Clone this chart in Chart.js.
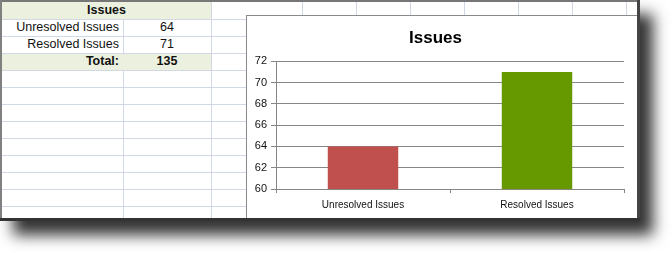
<!DOCTYPE html>
<html>
<head>
<meta charset="utf-8">
<script src="https://cdn.jsdelivr.net/npm/chart.js@4"></script>
<style>
  body { margin: 0; background: #fff; width: 672px; height: 253px; overflow: hidden; font-family: "Liberation Sans", Arial, sans-serif; }
  #frame { position: absolute; left: 0; top: 0; width: 640px; height: 221px; background: #fff;
           box-shadow: 13px 14px 14px rgba(0,0,0,0.8); }
  .line { position: absolute; background: #d0d7e5; }
  .fill { position: absolute; background: #ebf1de; }
  .cell { position: absolute; font-size: 12.5px; line-height: 17px; color: #111; white-space: nowrap; }
  .bold { font-weight: bold; }
  .edge { position: absolute; }
  #chartBox { position: absolute; left: 246px; top: 15px; width: 391px; height: 203px; background: #fff;
              border-left: 1px solid #8a8a8a; border-top: 1px solid #8a8a8a; box-sizing: border-box; }
  #chartBox canvas { position: absolute; left: 0; top: 0; }
</style>
</head>
<body>
<div id="frame"></div>
<div id="chartBox"><canvas id="issuesChart" width="390" height="202"></canvas></div>
<script>
const categories = ['Unresolved Issues', 'Resolved Issues'];
const issueCounts = [64, 71];
const barColors = ['#C0504D', '#669900'];
const yTicks = [60, 62, 64, 66, 68, 70, 72];
const tableTitle = 'Issues';
const totalLabel = 'Total:';

// spreadsheet behind the chart
const frame = document.getElementById('frame');
function box(cls, x, y, w, h, text) {
  const d = document.createElement('div');
  d.className = cls;
  d.style.left = x + 'px'; d.style.top = y + 'px';
  d.style.width = w + 'px'; d.style.height = h + 'px';
  if (text !== undefined) d.textContent = text;
  frame.appendChild(d);
  return d;
}
const rowTops = [2, 19, 36, 53, 70, 87, 104, 121, 138, 155, 172, 189, 206];
const colLines = [123, 211, 302, 356, 410, 464, 518, 572, 626];

box('fill', 2, 2, 209, 17);
box('fill', 2, 53, 209, 17);
rowTops.slice(1).forEach(y => box('line', 2, y, 635, 1));
colLines.forEach(x => {
  if (x === 123) {
    box('line', x, 19, 1, 34);
    box('line', x, 70, 1, 148);
  } else {
    box('line', x, 2, 1, 216);
  }
});

let c = box('cell bold', 2, 2, 209, 17, tableTitle); c.style.textAlign = 'center';
categories.forEach((name, i) => {
  let a = box('cell', 2, 19 + i * 17, 117, 17, name); a.style.textAlign = 'right';
  let b = box('cell', 123, 19 + i * 17, 88, 17, issueCounts[i]); b.style.textAlign = 'center';
});
let t = box('cell bold', 2, 53, 117, 17, totalLabel); t.style.textAlign = 'right';
let tv = box('cell bold', 123, 53, 88, 17, issueCounts.reduce((s, v) => s + v, 0)); tv.style.textAlign = 'center';

// window frame edges
box('edge', 0, 0, 640, 2).style.background = '#777';
box('edge', 0, 0, 2, 221).style.background = '#808080';
box('edge', 637, 0, 3, 221).style.background = '#444';
box('edge', 0, 218, 640, 3).style.background = '#333';

const fontFam = '"Liberation Sans", Arial, sans-serif';
new Chart(document.getElementById('issuesChart'), {
  type: 'bar',
  data: {
    labels: categories,
    datasets: [{
      data: issueCounts,
      backgroundColor: barColors,
      barPercentage: 0.405,
      categoryPercentage: 1
    }]
  },
  options: {
    responsive: false,
    animation: false,
    layout: { padding: { left: 0, right: 13, top: 0, bottom: 0 } },
    plugins: {
      legend: { display: false },
      tooltip: { enabled: false },
      title: {
        display: true,
        text: tableTitle,
        color: '#000',
        font: { family: fontFam, size: 17, weight: 'bold' },
        padding: { top: 12, bottom: 13 }
      }
    },
    scales: {
      x: {
        grid: { offset: true, drawOnChartArea: false, tickLength: 4, color: '#868686' },
        border: { color: '#868686' },
        ticks: { color: '#111', font: { family: fontFam, size: 10 }, padding: 6 },
        afterFit(s) { s.height = 29; }
      },
      y: {
        min: yTicks[0],
        max: yTicks[yTicks.length - 1],
        ticks: { stepSize: 2, color: '#111', font: { family: fontFam, size: 11 }, padding: 4 },
        grid: { color: '#868686', tickLength: 5 },
        border: { color: '#868686' },
        afterFit(s) { s.width = 29; }
      }
    }
  }
});
</script>
</body>
</html>
